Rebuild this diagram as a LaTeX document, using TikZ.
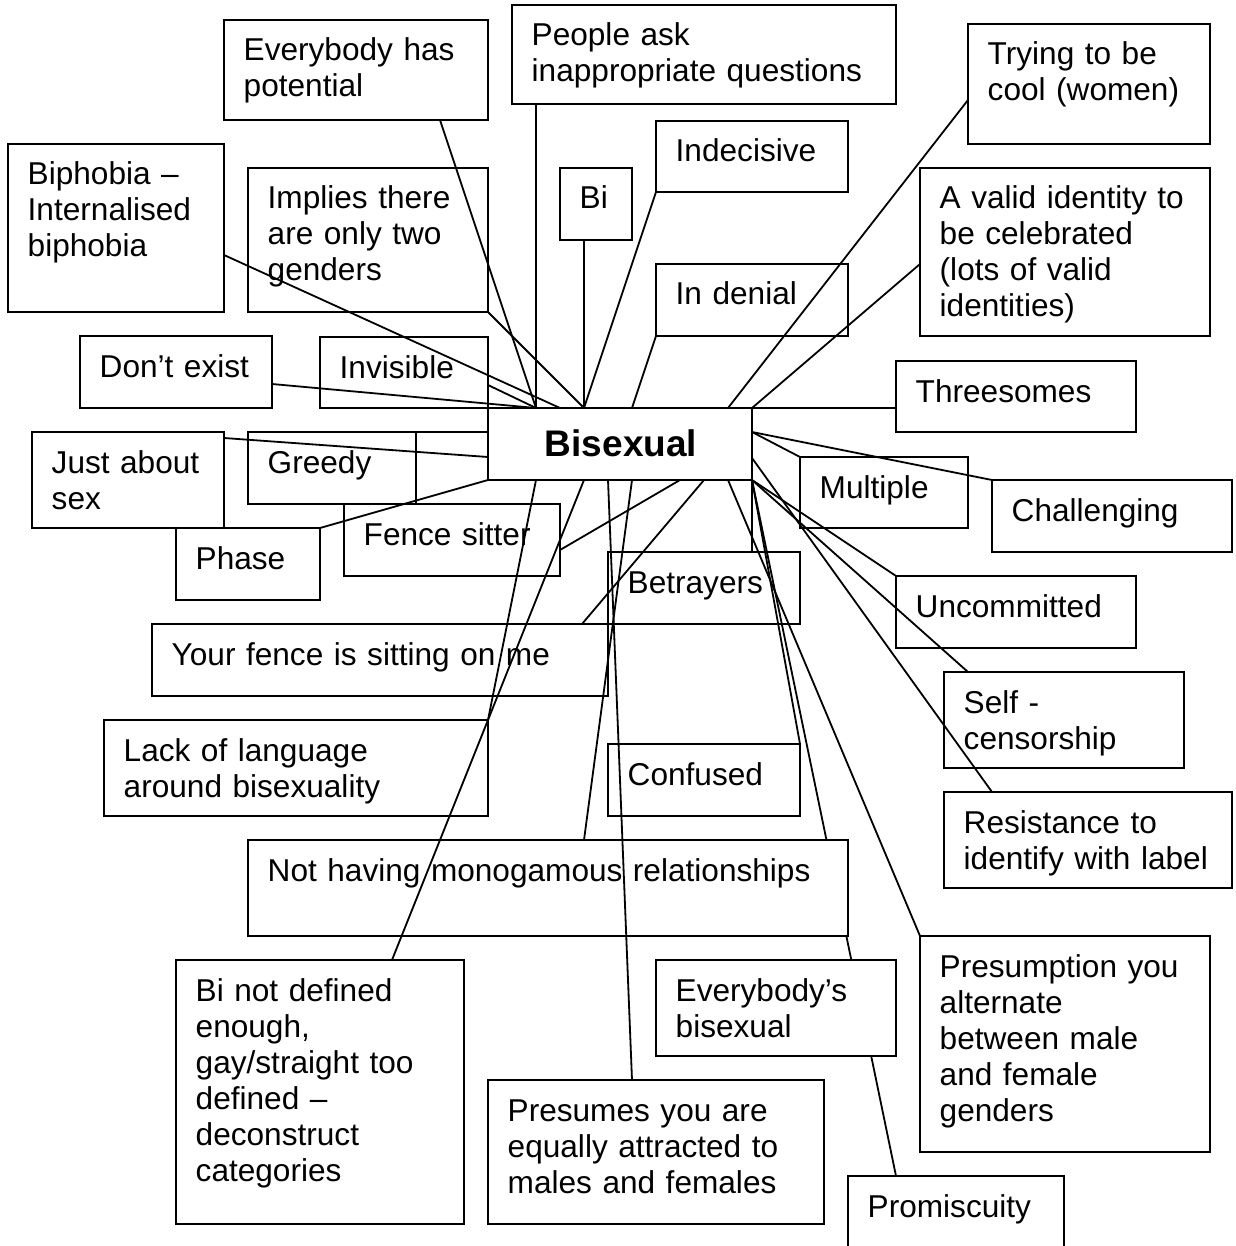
\documentclass[tikz,border=0pt]{standalone}
\usepackage{fontspec}
\setmainfont{Liberation Sans}
\usetikzlibrary{fit,calc,backgrounds}
\tikzset{
  box/.style={draw=black, line width=1.8pt, inner sep=0pt, outer sep=0pt},
  wbox/.style={box, fill=white},
  txt/.style={anchor=base west, inner sep=0pt, text width=700pt, align=left, font=\fontsize{31.6}{36}\selectfont},
  conn/.style={draw=black, line width=1.8pt},
}
\newcommand\mkbox[7][box]{%
  \node[#1, fit={(#3,#4)(#5,#6)}] (#2) {};
  \node[txt] (#2t) at (#3+19.5,#4+41) {#7};
}
\begin{document}
\begin{tikzpicture}[x=1pt,y=-1pt]
\useasboundingbox (0,0) rectangle (1235,1246);
\begin{scope}[on background layer]
\fill[white] (0,0) rectangle (1235,1246);
\end{scope}
\clip (0,0) rectangle (1235,1246);

\mkbox{ev}{224}{20}{488}{120}{Everybody has\\potential}
\mkbox{people}{512}{5}{896}{104}{People ask\\inappropriate questions}
\mkbox{trying}{968}{24}{1210}{144}{Trying to be\\cool (women)}
\mkbox{indecisive}{656}{121}{848}{192}{Indecisive}
\mkbox{biphobia}{8}{144}{224}{312}{Biphobia –\\Internalised\\biphobia}
\mkbox{implies}{248}{168}{488}{312}{Implies there\\are only two\\genders}
\mkbox{bi}{560}{168}{632}{240}{Bi}
\mkbox{valid}{920}{168}{1210}{336}{A valid identity to\\be celebrated\\(lots of valid\\identities)}
\mkbox{denial}{656}{264}{848}{336}{In denial}
\mkbox{dont}{80}{336}{272}{408}{Don’t exist}
\mkbox{invisible}{320}{337}{488}{408}{Invisible}
\mkbox{threesomes}{896}{361}{1136}{432}{Threesomes}
\node[box, fit={(488,408)(752,480)}] (bis) {};
\node[anchor=base, inner sep=0pt, font=\fontsize{37}{40}\selectfont\bfseries] (bist) at (621,456) {Bisexual};
\mkbox{justsex}{32}{432}{224}{528}{Just about\\sex}
\mkbox{greedy}{248}{432}{416}{504}{Greedy}
\mkbox{multiple}{800}{457}{968}{528}{Multiple}
\mkbox{challenging}{992}{480}{1232}{552}{Challenging}
\mkbox{phase}{176}{528}{320}{600}{Phase}
\mkbox{fence}{344}{504}{560}{576}{Fence sitter}
\mkbox{betrayers}{608}{552}{800}{624}{Betrayers}
\mkbox{uncommitted}{896}{576}{1136}{648}{Uncommitted}
\mkbox{yourfence}{152}{624}{608}{696}{Your fence is sitting on me}
\mkbox{self}{944}{672}{1184}{768}{Self -\\censorship}
\mkbox{lack}{104}{720}{488}{816}{Lack of language\\around bisexuality}
\mkbox{confused}{608}{744}{800}{816}{Confused}
\mkbox{resistance}{944}{792}{1232}{888}{Resistance to\\identify with label}
\mkbox[wbox]{notmono}{248}{840}{848}{936}{Not having monogamous relationships}
\mkbox{presumption}{920}{936}{1210}{1152}{Presumption you\\alternate\\between male\\and female\\genders}
\mkbox{binot}{176}{960}{464}{1224}{Bi not defined\\enough,\\gay/straight too\\defined –\\deconstruct\\categories}
\mkbox[wbox]{evb}{656}{960}{896}{1056}{Everybody’s\\bisexual}
\mkbox{presumes}{488}{1080}{824}{1224}{Presumes you are\\equally attracted to\\males and females}
\mkbox{promiscuity}{848}{1176}{1064}{1260}{Promiscuity}

% connector hidden beneath the opaque boxes
\begin{scope}[on background layer]
\draw[conn] ($(promiscuity.north west)+(48,0)$) -- (bis.south east);
\end{scope}

% connectors
\draw[conn] ($(ev.south west)+(216,0)$) -- ($(bis.north west)+(48,0)$);
\draw[conn] ($(people.south west)+(24,0)$) -- ($(bis.north west)+(48,0)$);
\draw[conn] ($(bi.south west)+(24,0)$) -- ($(bis.north west)+(96,0)$);
\draw[conn] (indecisive.south west) -- ($(bis.north west)+(96,0)$);
\draw[conn] (implies.south east) -- ($(bis.north west)+(96,0)$);
\draw[conn] ($(biphobia.north east)+(0,111)$) -- ($(bis.north west)+(72,0)$);
\draw[conn] ($(dont.north east)+(0,48)$) -- ($(bis.north west)+(48,0)$);
\draw[conn] ($(invisible.north east)+(0,48)$) -- ($(bis.north west)+(48,0)$);
\draw[conn] (denial.south west) -- ($(bis.north west)+(144,0)$);
\draw[conn] ($(trying.north west)+(0,76)$) -- ($(bis.north west)+(240,0)$);
\draw[conn] ($(valid.north west)+(0,96)$) -- (bis.north east);
\draw[conn] ($(threesomes.north west)+(0,47)$) -- (bis.north east);
\draw[conn] ($(justsex.north east)+(0,6)$) -- ($(bis.north west)+(0,49)$);
\draw[conn] (greedy.north east) -- ($(bis.north west)+(0,24)$);
\draw[conn] (phase.north east) -- (bis.south west);
\draw[conn] ($(fence.north east)+(0,46)$) -- ($(bis.south west)+(192,0)$);
\draw[conn] (multiple.north west) -- ($(bis.north east)+(0,24)$);
\draw[conn] (challenging.north west) -- ($(bis.north east)+(0,24)$);
\draw[conn] (uncommitted.north west) -- (bis.south east);
\draw[conn] ($(self.north west)+(24,0)$) -- (bis.south east);
\draw[conn] ($(resistance.north west)+(48,0)$) -- ($(bis.north east)+(0,50)$);
\draw[conn] ($(betrayers.north west)+(144,0)$) -- (bis.south east);
\draw[conn] ($(yourfence.north east)+(-26,0)$) -- ($(bis.south west)+(216,0)$);
\draw[conn] (lack.north east) -- ($(bis.south west)+(48,0)$);
\draw[conn] ($(binot.north west)+(216,0)$) -- ($(bis.south west)+(96,0)$);
\draw[conn] ($(notmono.north west)+(336,0)$) -- ($(bis.south west)+(144,0)$);
\draw[conn] (confused.north east) -- (bis.south east);
\draw[conn] ($(presumes.north west)+(144,0)$) -- ($(bis.south west)+(120,0)$);
\draw[conn] (presumption.north west) -- ($(bis.south west)+(240,0)$);
\end{tikzpicture}
\end{document}
